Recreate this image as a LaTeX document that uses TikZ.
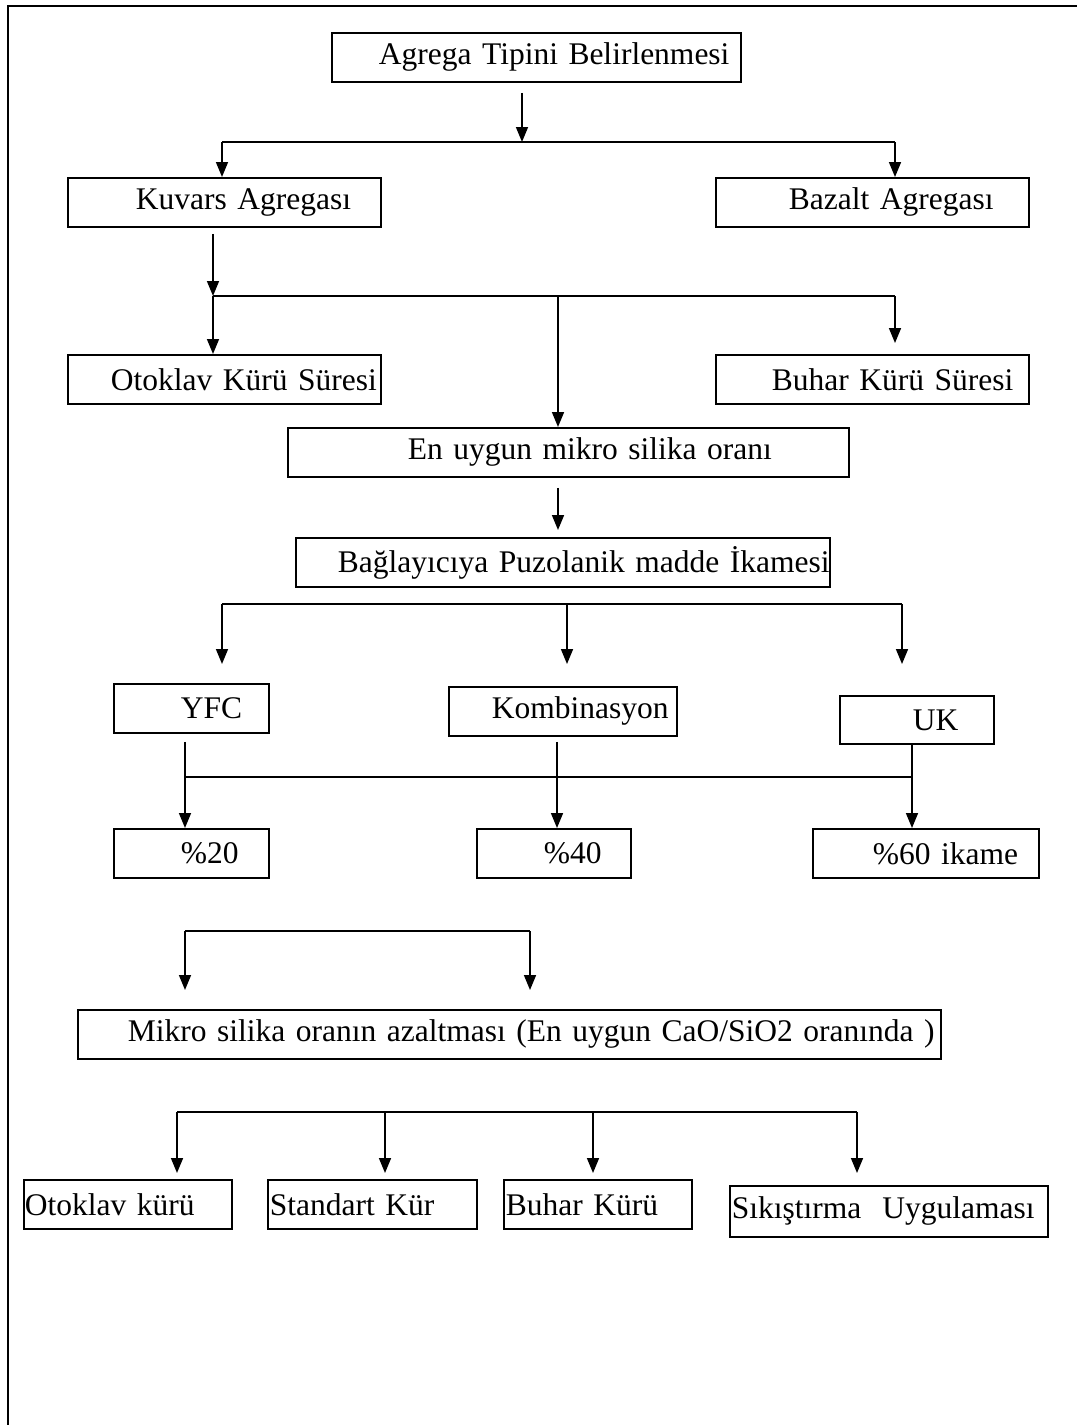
\documentclass[tikz,border=0pt]{standalone}
\usepackage{fontspec}
\setmainfont{Liberation Serif}
\usetikzlibrary{arrows.meta}
\tikzset{
  kutu/.style={draw,line width=1.8pt,anchor=north west,inner xsep=0pt,inner ysep=0pt,
    minimum height=49pt,align=left},
  ok/.style={-{Triangle[length=15pt,width=12pt]},line width=1.6pt},
  hat/.style={line width=1.6pt}
}
\begin{document}
\begin{tikzpicture}[x=1pt,y=-1pt,font=\fontsize{31.5}{36}\selectfont]
  \useasboundingbox (0,0) rectangle (1077,1425);
  % cerceve
  \draw[line width=2.4pt] (8,1425)--(8,6)--(1077,6);
  % kutular
  \node[kutu,text width=409pt] (agrega) at (331,32) {\hspace*{47pt}\mbox{Agrega Tipini Belirlenmesi}};
  \node[kutu,text width=313pt] (kuvars) at (67,177) {\hspace*{68pt}\mbox{Kuvars Agregası}};
  \node[kutu,text width=313pt] (bazalt) at (715,177) {\hspace*{73pt}\mbox{Bazalt Agregası}};
  \node[kutu,text width=313pt] (otoklav) at (67,354) {\hspace*{43pt}\mbox{Otoklav Kürü Süresi}};
  \node[kutu,text width=313pt] (buhar) at (715,354) {\hspace*{56pt}\mbox{Buhar Kürü Süresi}};
  \node[kutu,text width=561pt] (uygun) at (287,427) {\hspace*{120pt}\mbox{En uygun mikro silika oranı}};
  \node[kutu,text width=534pt] (baglayici) at (295,537) {\hspace*{42pt}\mbox{Bağlayıcıya Puzolanik madde İkamesi}};
  \node[kutu,text width=155pt] (yfc) at (113,683) {\hspace*{67pt}\mbox{YFC}};
  \node[kutu,text width=228pt] (komb) at (448,686) {\hspace*{43pt}\mbox{Kombinasyon}};
  \node[kutu,text width=154pt,minimum height=48pt] (uk) at (839,695) {\hspace*{73pt}\mbox{UK}};
  \node[kutu,text width=155pt] (yuzde20) at (113,828) {\hspace*{67pt}\mbox{\%20}};
  \node[kutu,text width=154pt] (yuzde40) at (476,828) {\hspace*{67pt}\mbox{\%40}};
  \node[kutu,text width=226pt] (yuzde60) at (812,828) {\hspace*{60pt}\mbox{\%60 ikame}};
  \node[kutu,text width=863pt] (mikro) at (77,1009) {\hspace*{50pt}\mbox{Mikro silika oranın azaltması (En uygun CaO/SiO2 oranında )}};
  \node[kutu,text width=208pt] (otoklavk) at (23,1179) {\hspace*{1pt}\mbox{Otoklav kürü}};
  \node[kutu,text width=209pt] (standart) at (267,1179) {\hspace*{2pt}\mbox{Standart Kür}};
  \node[kutu,text width=188pt] (buhark) at (503,1179) {\hspace*{2pt}\mbox{Buhar Kürü}};
  \node[kutu,text width=318pt,minimum height=51pt] (sikistirma) at (729,1185) {\hspace*{2pt}\mbox{Sıkıştırma~ Uygulaması}};
  % agrega -> kuvars / bazalt
  \coordinate (a1) at (522,142);
  \coordinate (a2) at (222,142);
  \coordinate (a3) at (895,142);
  \draw[ok,shorten <=10pt] (agrega.south -| a1)--(a1);
  \draw[hat] (a2)--(a3);
  \draw[ok] (a2)--(kuvars.north -| a2);
  \draw[ok] (a3)--(bazalt.north -| a3);
  % kuvars -> kur sureleri
  \coordinate (b1) at (213,296);
  \coordinate (b2) at (558,296);
  \coordinate (b3) at (895,296);
  \draw[ok,shorten <=6pt] (kuvars.south -| b1)--(b1);
  \draw[hat] (b1)--(b3);
  \draw[ok] (b1)--(otoklav.north -| b1);
  \draw[ok] (b2)--(uygun.north -| b2);
  \draw[ok,shorten >=11pt] (b3)--(buhar.north -| b3);
  \draw[ok,shorten <=10pt,shorten >=7pt] (uygun.south -| b2)--(baglayici.north -| b2);
  % puzolan tipleri
  \coordinate (c1) at (222,604);
  \coordinate (c2) at (567,604);
  \coordinate (c3) at (902,604);
  \draw[hat] (c1)--(c3);
  \draw[ok,shorten >=19pt] (c1)--(yfc.north -| c1);
  \draw[ok,shorten >=22pt] (c2)--(komb.north -| c2);
  \draw[ok,shorten >=31pt] (c3)--(uk.north -| c3);
  % ikame oranlari
  \coordinate (d1) at (185,777);
  \coordinate (d2) at (557,777);
  \coordinate (d3) at (912,777);
  \draw[hat,shorten <=8pt] (yfc.south -| d1)--(d1);
  \draw[hat,shorten <=5pt] (komb.south -| d2)--(d2);
  \draw[hat] (uk.south -| d3)--(d3);
  \draw[hat] (d1)--(d3);
  \draw[ok] (d1)--(yuzde20.north -| d1);
  \draw[ok] (d2)--(yuzde40.north -| d2);
  \draw[ok] (d3)--(yuzde60.north -| d3);
  % mikro silika
  \coordinate (e1) at (185,931);
  \coordinate (e2) at (530,931);
  \draw[hat] (e1)--(e2);
  \draw[ok,shorten >=19pt] (e1)--(mikro.north -| e1);
  \draw[ok,shorten >=19pt] (e2)--(mikro.north -| e2);
  % kur tipleri
  \coordinate (f1) at (177,1112);
  \coordinate (f2) at (385,1112);
  \coordinate (f3) at (593,1112);
  \coordinate (f4) at (857,1112);
  \draw[hat] (f1)--(f4);
  \draw[ok,shorten >=6pt] (f1)--(otoklavk.north -| f1);
  \draw[ok,shorten >=6pt] (f2)--(standart.north -| f2);
  \draw[ok,shorten >=6pt] (f3)--(buhark.north -| f3);
  \draw[ok,shorten >=12pt] (f4)--(sikistirma.north -| f4);
\end{tikzpicture}
\end{document}
